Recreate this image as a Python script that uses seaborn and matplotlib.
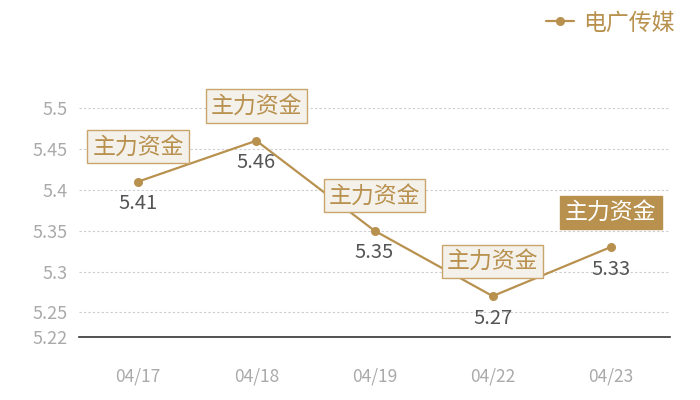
import numpy as np
import pandas as pd
import matplotlib
matplotlib.use("Agg")
import matplotlib.pyplot as plt
import seaborn as sns

sns.set_theme(style="white")
plt.rcParams['font.family'] = ['Noto Sans CJK SC', 'DejaVu Sans']

dates = ["04/17", "04/18", "04/19", "04/22", "04/23"]
prices = [5.41, 5.46, 5.35, 5.27, 5.33]
tags = ["主力资金", "主力资金", "主力资金", "主力资金", "主力资金"]
tag_filled = [False, False, False, False, True]
yticks = [5.22, 5.25, 5.3, 5.35, 5.4, 5.45, 5.5]
yticklabels = ["5.22", "5.25", "5.3", "5.35", "5.4", "5.45", "5.5"]

gold = "#b8914f"
df = pd.DataFrame({"date": dates, "price": prices})

fig = plt.figure(figsize=(7, 4), dpi=100)
ax = fig.add_axes([0.113, 0.1575, 0.844, 0.5725])

sns.lineplot(data=df, x="date", y="price", ax=ax, color=gold, lw=1.6,
             marker="o", markersize=6.5, markeredgewidth=0, sort=False,
             label="电广传媒")

ax.set_xlim(-0.5, len(dates) - 0.5)
ax.set_ylim(5.22, 5.5)
ax.set_yticks(yticks)
ax.set_yticklabels(yticklabels)
for y in yticks[1:]:
    ax.axhline(y, color="#cccccc", lw=0.8, ls=(0, (2, 2)), zorder=0)

for s in ["top", "right", "left"]:
    ax.spines[s].set_visible(False)
ax.spines["bottom"].set_color("#333333")
ax.spines["bottom"].set_linewidth(1.2)
ax.tick_params(axis="both", length=0, labelsize=13, colors="#aaaaaa", pad=8)
ax.tick_params(axis="x", labelsize=12.5, pad=22)
ax.set_xlabel("")
ax.set_ylabel("")

for i, (v, t, f) in enumerate(zip(prices, tags, tag_filled)):
    ax.annotate(f"{v:.2f}", (i, v), xytext=(0, -16), textcoords="offset points",
                ha="center", va="center", fontsize=14.5, color="#555555")
    if f:
        box = dict(boxstyle="square,pad=0.22", fc=gold, ec=gold, lw=1)
        tc = "white"
    else:
        box = dict(boxstyle="square,pad=0.22", fc="#f4f0ea", ec="#c9a56c", lw=1)
        tc = gold
    ax.annotate(t, (i, v), xytext=(0, 25), textcoords="offset points",
                ha="center", va="center", fontsize=16.5, color=tc, bbox=box,
                annotation_clip=False)

leg = ax.legend(loc="upper right", bbox_to_anchor=(0.98, 1.0),
                bbox_transform=fig.transFigure, frameon=False, fontsize=16.5,
                handlelength=1.2, handletextpad=0.4, borderaxespad=0.1)
for txt in leg.get_texts():
    txt.set_color(gold)

fig.savefig("out.png", dpi=100)
